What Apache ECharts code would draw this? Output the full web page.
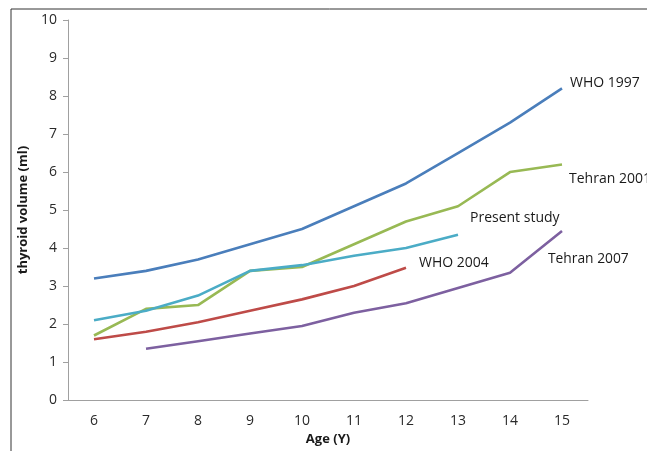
<!DOCTYPE html>
<html><head><meta charset="utf-8">
<script src="https://cdn.jsdelivr.net/npm/echarts@6/dist/echarts.min.js"></script>
<style>html,body{margin:0;padding:0;background:#fff}#c{width:647px;height:451px}</style>
</head><body><div id="c"></div>
<script>
const ages = ['6','7','8','9','10','11','12','13','14','15'];
const who1997 = [3.2, 3.4, 3.7, 4.1, 4.5, 5.1, 5.7, 6.5, 7.3, 8.2];
const tehran2001 = [1.7, 2.4, 2.5, 3.4, 3.5, 4.1, 4.7, 5.1, 6.0, 6.2];
const presentStudy = [2.1, 2.35, 2.75, 3.4, 3.55, 3.8, 4.0, 4.35, null, null];
const who2004 = [1.6, 1.8, 2.05, 2.35, 2.65, 3.0, 3.48, null, null, null];
const tehran2007 = [null, 1.35, 1.55, 1.75, 1.95, 2.3, 2.55, 2.95, 3.35, 4.45];
const yTicks = [0,1,2,3,4,5,6,7,8,9,10];

const font = '"Open Sans", "Liberation Sans", sans-serif';
const chart = echarts.init(document.getElementById('c'));
function s(name, data, color){
  return {name, type:'line', data, symbol:'none', connectNulls:false,
    lineStyle:{color, width:2.6}, itemStyle:{color}, animation:false, z:2};
}
chart.setOption({
  animation:false,
  grid:{left:68, top:20, right:59, bottom:47},
  xAxis:{type:'category', data:ages, boundaryGap:true,
    name:'Age (Y)', nameLocation:'middle', nameGap:30,
    nameTextStyle:{fontFamily:font, fontWeight:'bold', fontSize:13, color:'#1a1a1a'},
    axisLine:{lineStyle:{color:'#a0a0a0', width:1}}, axisTick:{show:false},
    axisLabel:{fontFamily:font, fontSize:14, color:'#2a2a2a', margin:14}},
  yAxis:{type:'value', min:0, max:10, interval:1,
    name:'thyroid volume (ml)', nameLocation:'middle', nameGap:38,
    nameTextStyle:{fontFamily:font, fontWeight:'bold', fontSize:13, color:'#1a1a1a'},
    axisLine:{show:true, lineStyle:{color:'#a0a0a0', width:1}},
    axisTick:{show:true, length:5, lineStyle:{color:'#a0a0a0'}},
    splitLine:{show:false},
    axisLabel:{fontFamily:font, fontSize:14, color:'#2a2a2a', margin:11}},
  series:[
    s('WHO 1997', who1997, '#4a7ebb'),
    s('Tehran 2001', tehran2001, '#98b954'),
    s('WHO 2004', who2004, '#be4b48'),
    s('Tehran 2007', tehran2007, '#7d60a0'),
    s('Present study', presentStudy, '#4bacc6')
  ],
  graphic:[
    {type:'rect', shape:{x:11, y:9, width:700, height:500}, style:{fill:'none', stroke:'#333', lineWidth:1}, silent:true},
    {type:'text', left:570, top:76, style:{text:'WHO 1997', font:'14px '+font, fill:'#1a1a1a'}},
    {type:'text', left:569, top:172, style:{text:'Tehran 2001', font:'14px '+font, fill:'#1a1a1a'}},
    {type:'text', left:470, top:211, style:{text:'Present study', font:'14px '+font, fill:'#1a1a1a'}},
    {type:'text', left:419, top:256, style:{text:'WHO 2004', font:'14px '+font, fill:'#1a1a1a'}},
    {type:'text', left:548, top:252, style:{text:'Tehran 2007', font:'13.8px '+font, fill:'#1a1a1a'}}
  ]
});
</script></body></html>
